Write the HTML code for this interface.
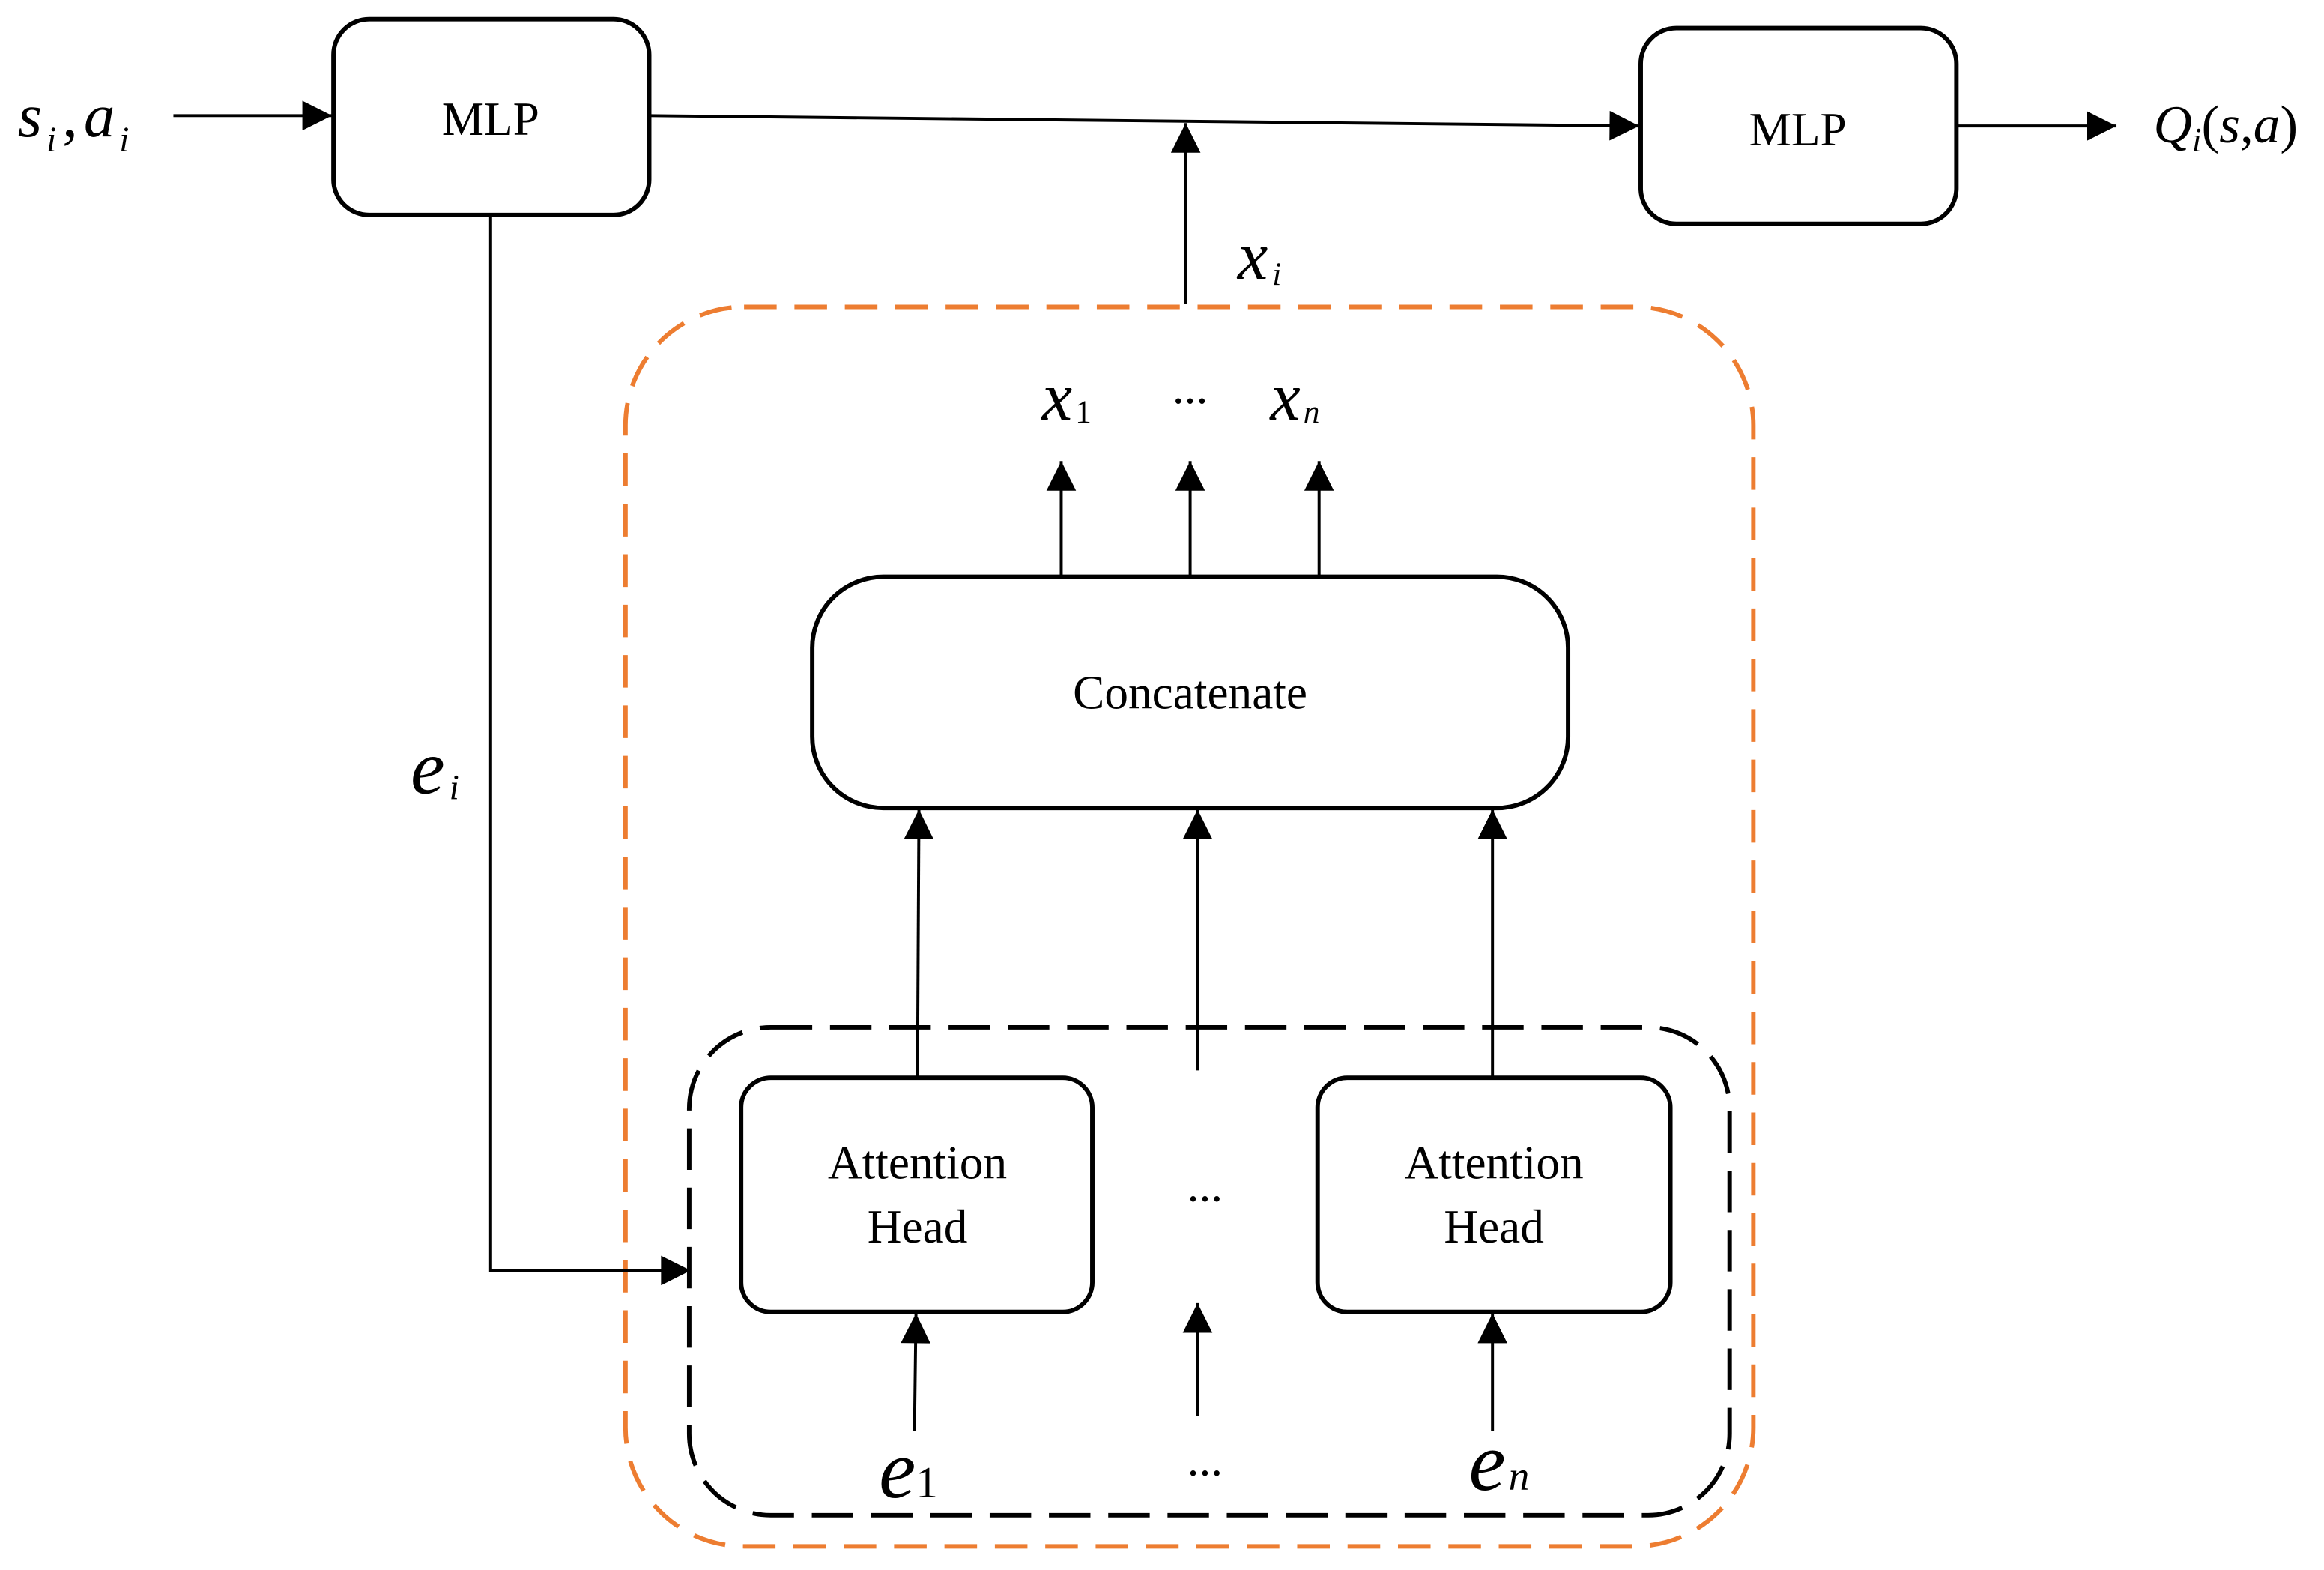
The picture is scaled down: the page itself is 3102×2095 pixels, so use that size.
<!DOCTYPE html>
<html><head><style>html,body{margin:0;padding:0;background:#fff}svg{display:block}</style></head><body>
<svg width="3102" height="2095" viewBox="0 0 1568 1059" preserveAspectRatio="none" xmlns="http://www.w3.org/2000/svg" font-family="Liberation Serif, serif">
<defs><marker id="b" viewBox="0 0 10 10" refX="10" refY="5" markerWidth="26" markerHeight="20" markerUnits="userSpaceOnUse" orient="auto"><path d="M0,0 L10,5 L0,10 z"/></marker></defs>
<g fill="none" stroke="#000" stroke-width="3">
<rect x="225" y="13" width="213" height="132" rx="24"/>
<rect x="1107" y="19" width="213" height="132" rx="24"/>
<rect x="548" y="389" width="510" height="156" rx="48"/>
<rect x="500" y="727" width="237" height="158" rx="20"/>
<rect x="889" y="727" width="238" height="158" rx="20"/>
</g>
<rect x="422" y="207" width="761" height="836" rx="80" fill="none" stroke="#ED7D31" stroke-width="3" stroke-dasharray="22 12"/>
<rect x="465" y="693" width="702" height="329" rx="55" fill="none" stroke="#000" stroke-width="3" stroke-dasharray="28 12"/>
<g stroke="#000" stroke-width="2" fill="none" marker-end="url(#b)">
<line x1="117" y1="78" x2="224" y2="78"/>
<line x1="438" y1="78" x2="1106" y2="85"/>
<line x1="1320" y1="85" x2="1428" y2="85"/>
<polyline points="331,145 331,857 466,857"/>
<line x1="800" y1="205" x2="800" y2="83"/>
<line x1="716" y1="388" x2="716" y2="311"/>
<line x1="803" y1="388" x2="803" y2="311"/>
<line x1="890" y1="388" x2="890" y2="311"/>
<line x1="619" y1="727" x2="620" y2="546"/>
<line x1="808" y1="722" x2="808" y2="546"/>
<line x1="1007" y1="727" x2="1007" y2="546"/>
<line x1="617" y1="965" x2="618" y2="886"/>
<line x1="808" y1="955" x2="808" y2="879"/>
<line x1="1007" y1="965" x2="1007" y2="886"/>
</g>
<g font-size="32" text-anchor="middle">
<text x="331" y="91">MLP</text>
<text x="1213" y="98">MLP</text>
<text x="803" y="478">Concatenate</text>
<text x="619" y="795">Attention</text><text x="619" y="838">Head</text>
<text x="1008" y="795">Attention</text><text x="1008" y="838">Head</text>
<text x="813" y="810">...</text>
<text x="813" y="995">...</text>
<text x="803" y="272">...</text>
</g>
<g font-style="italic">
<text x="12" y="92" font-size="42">s<tspan font-size="24" dy="10" dx="3">i</tspan><tspan dy="-10" dx="4" font-style="normal">,</tspan><tspan dx="4">a</tspan><tspan font-size="24" dy="10" dx="3">i</tspan></text>
<text x="1453" y="96" font-size="36">Q<tspan font-size="23" dy="6">i</tspan><tspan dy="-6" font-style="normal">(</tspan>s<tspan font-style="normal">,</tspan>a<tspan font-style="normal">)</tspan></text>
<text x="277" y="535" font-size="52">e<tspan font-size="24" dy="4" dx="3">i</tspan></text>
<text x="835" y="188" font-size="46">x<tspan font-size="22" dy="4" dx="3">i</tspan></text>
<text x="703" y="283" font-size="46">x<tspan font-size="22" dy="2" dx="2" font-style="normal">1</tspan></text>
<text x="857" y="283" font-size="46">x<tspan font-size="22" dy="2" dx="2">n</tspan></text>
<text x="593" y="1010" font-size="56">e<tspan font-size="30" font-style="normal">1</tspan></text>
<text x="991" y="1005" font-size="56">e<tspan font-size="28" dx="2">n</tspan></text>
</g>
</svg>
</body></html>
